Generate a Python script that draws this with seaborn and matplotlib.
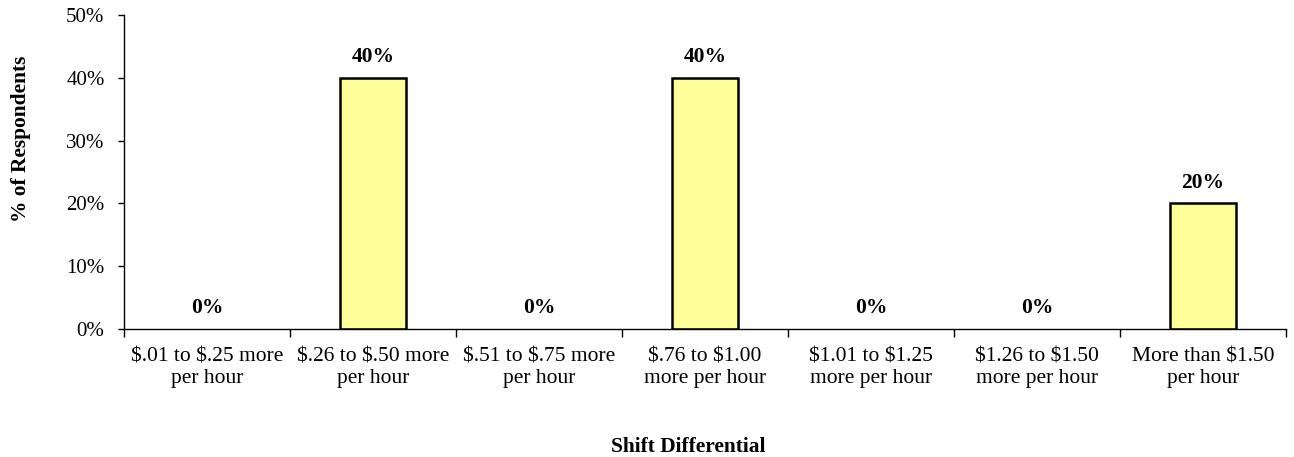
import matplotlib
matplotlib.use("Agg")
import matplotlib.pyplot as plt
import seaborn as sns
import pandas as pd
import numpy as np
from matplotlib.ticker import FixedLocator, PercentFormatter

categories = ["\\$.01 to \\$.25 more\nper hour", "\\$.26 to \\$.50 more\nper hour",
              "\\$.51 to \\$.75 more\nper hour", "\\$.76 to \\$1.00\nmore per hour",
              "\\$1.01 to \\$1.25\nmore per hour", "\\$1.26 to \\$1.50\nmore per hour",
              "More than \\$1.50\nper hour"]
values = [0, 40, 0, 40, 0, 0, 20]
labels = ["0%", "40%", "0%", "40%", "0%", "0%", "20%"]

sns.set_style("white")
plt.rcParams['font.family'] = ['Liberation Serif', 'DejaVu Serif']
plt.rcParams['text.color'] = 'black'
plt.rcParams['xtick.color'] = 'black'
plt.rcParams['ytick.color'] = 'black'
plt.rcParams['axes.labelcolor'] = 'black'

df = pd.DataFrame({"cat": categories, "val": values})
fig = plt.figure(figsize=(12.94, 4.57), dpi=100)
ax = fig.add_axes([124/1294, 1-329/457, (1286-124)/1294, (329-15)/457])
sns.barplot(data=df, x="cat", y="val", color="#FFFF99", edgecolor="black",
            linewidth=1.8, width=0.4, saturation=1, ax=ax)
for p in ax.patches:
    if p.get_height() == 0:
        p.set_linewidth(0)
ax.set_ylim(0, 50)
ax.set_xlim(-0.5, len(categories)-0.5)
ax.set_yticks(np.arange(0, 51, 10))
ax.yaxis.set_major_formatter(PercentFormatter(decimals=0))
ax.tick_params(axis='y', labelsize=15, length=4, width=1, direction='out', left=True, pad=10)
ax.tick_params(axis='x', which='major', length=0, labelsize=15.5, pad=13)
for t in ax.get_xticklabels():
    t.set_linespacing(1.2)
ax.xaxis.set_minor_locator(FixedLocator(np.arange(-0.5, len(categories), 1)))
ax.tick_params(axis='x', which='minor', length=6, width=1, direction='out', bottom=True)
for s in ['top', 'right']:
    ax.spines[s].set_visible(False)
for s in ['left', 'bottom']:
    ax.spines[s].set_color('black')
    ax.spines[s].set_linewidth(1)
for i, (v, t) in enumerate(zip(values, labels)):
    ax.text(i, v + 2.5, t, ha='center', va='baseline', fontsize=15.5, fontweight='bold')
ax.set_xlabel("Shift Differential", fontsize=15.4, fontweight='bold')
ax.xaxis.set_label_coords(0.486, -0.344)
ax.set_ylabel("% of Respondents", fontsize=15.4, fontweight='bold')
ax.yaxis.set_label_coords(-0.080, 0.605)
fig.savefig("out.png", dpi=100)
